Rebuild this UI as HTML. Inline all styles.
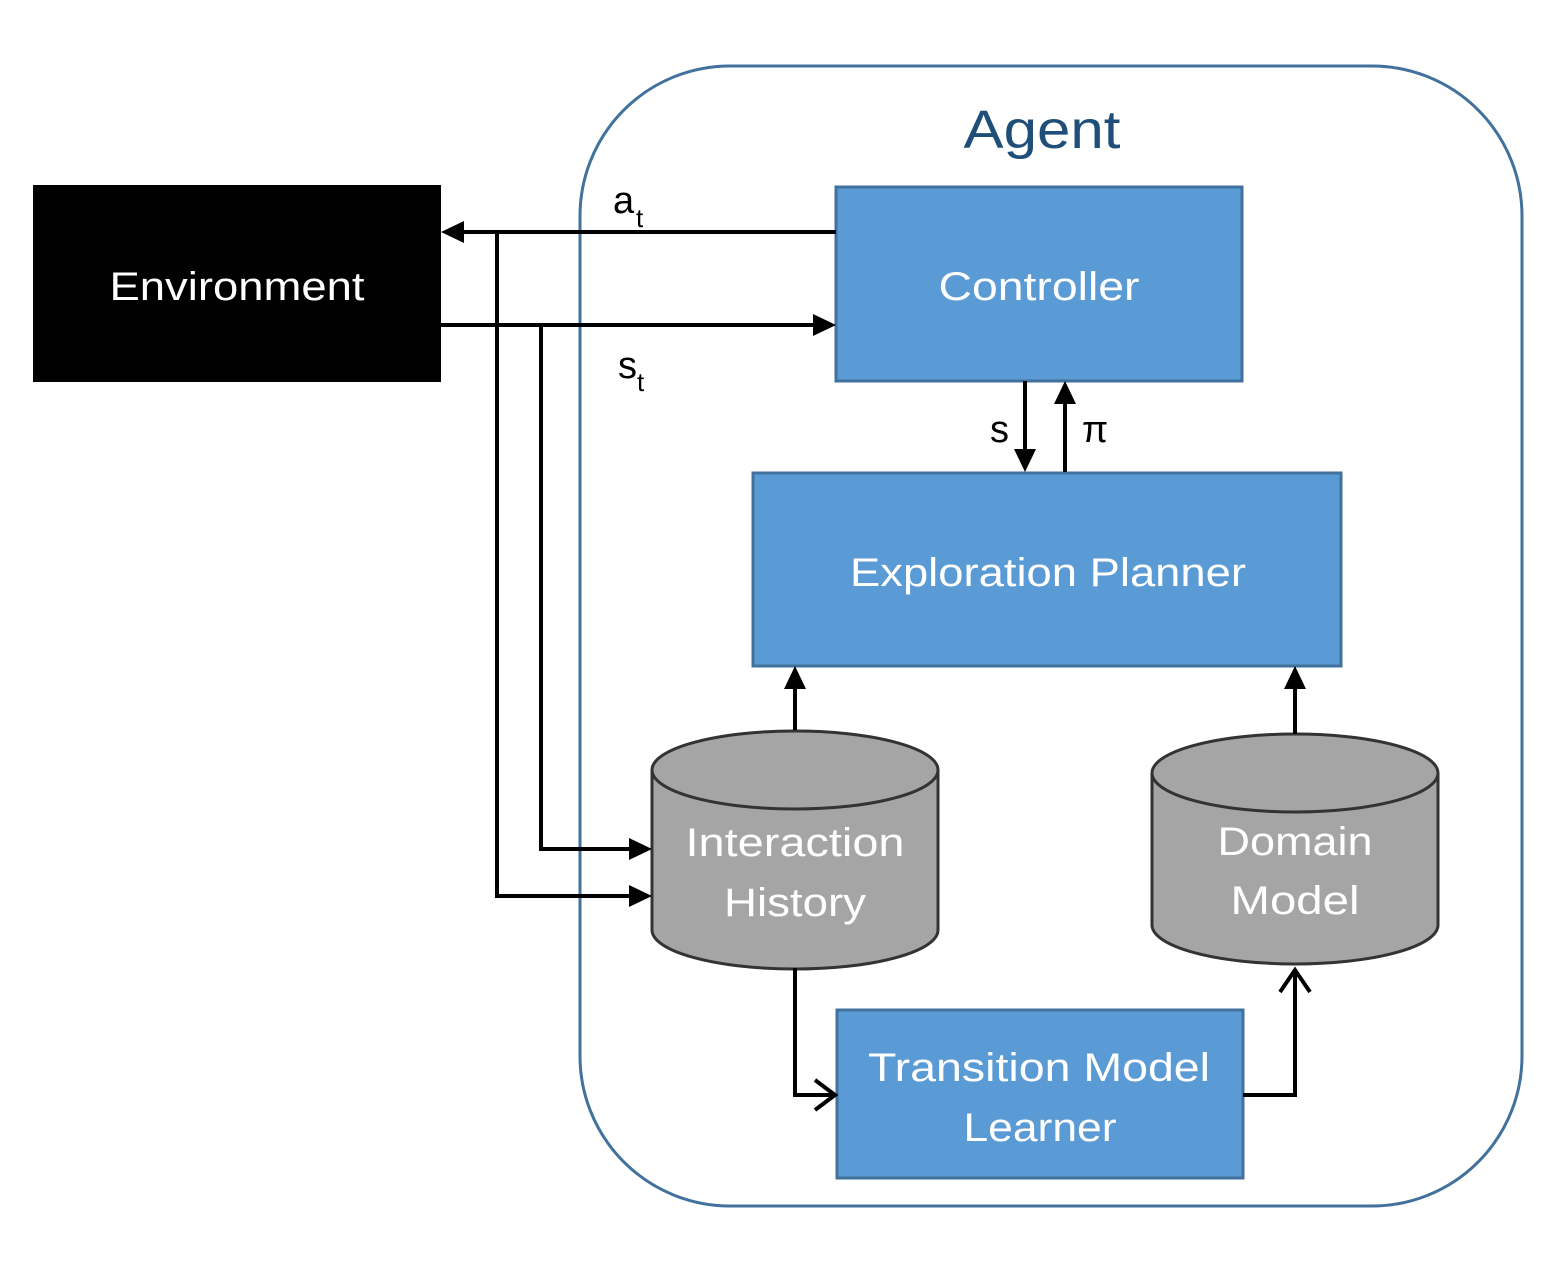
<!DOCTYPE html>
<html><head><meta charset="utf-8"><style>
html,body{margin:0;padding:0;background:#fff}
svg{display:block}
text{font-family:"Liberation Sans",sans-serif}
</style></head><body>
<svg width="1562" height="1279" viewBox="0 0 1562 1279" xmlns="http://www.w3.org/2000/svg">
<rect x="580" y="66" width="942" height="1140" rx="150" ry="150" fill="#fff" stroke="#41719c" stroke-width="3"/>
<text x="1042" y="148" font-size="54" fill="#1f4e79" text-anchor="middle" textLength="157" lengthAdjust="spacingAndGlyphs">Agent</text>

<rect x="33" y="185" width="408" height="197" fill="#000"/>
<text x="237" y="300" font-size="40" fill="#fff" text-anchor="middle" textLength="255" lengthAdjust="spacingAndGlyphs">Environment</text>

<rect x="836" y="187" width="406" height="194" fill="#5b9bd5" stroke="#41719c" stroke-width="3"/>
<text x="1039" y="300" font-size="40" fill="#fff" text-anchor="middle" textLength="201" lengthAdjust="spacingAndGlyphs">Controller</text>

<rect x="753" y="473" width="588" height="193" fill="#5b9bd5" stroke="#41719c" stroke-width="3"/>
<text x="1048" y="586" font-size="40" fill="#fff" text-anchor="middle" textLength="396" lengthAdjust="spacingAndGlyphs">Exploration Planner</text>

<rect x="837" y="1010" width="406" height="168" fill="#5b9bd5" stroke="#41719c" stroke-width="3"/>
<text x="1039" y="1081" font-size="40" fill="#fff" text-anchor="middle" textLength="342" lengthAdjust="spacingAndGlyphs">Transition Model</text>
<text x="1040" y="1141" font-size="40" fill="#fff" text-anchor="middle" textLength="153" lengthAdjust="spacingAndGlyphs">Learner</text>

<path d="M652,770 L652,930 A143,39 0 0 0 938,930 L938,770" fill="#a5a5a5" stroke="#333" stroke-width="3"/>
<ellipse cx="795" cy="770" rx="143" ry="39" fill="#a5a5a5" stroke="#333" stroke-width="3"/>
<text x="795" y="856" font-size="40" fill="#fff" text-anchor="middle" textLength="219" lengthAdjust="spacingAndGlyphs">Interaction</text>
<text x="795" y="916" font-size="40" fill="#fff" text-anchor="middle" textLength="142" lengthAdjust="spacingAndGlyphs">History</text>

<path d="M1152,773 L1152,925 A143,39 0 0 0 1438,925 L1438,773" fill="#a5a5a5" stroke="#333" stroke-width="3"/>
<ellipse cx="1295" cy="773" rx="143" ry="39" fill="#a5a5a5" stroke="#333" stroke-width="3"/>
<text x="1295" y="855" font-size="40" fill="#fff" text-anchor="middle" textLength="155" lengthAdjust="spacingAndGlyphs">Domain</text>
<text x="1295" y="914" font-size="40" fill="#fff" text-anchor="middle" textLength="129" lengthAdjust="spacingAndGlyphs">Model</text>

<g stroke="#000" stroke-width="4" fill="none">
<line x1="836" y1="232" x2="460" y2="232"/>
<line x1="441" y1="325" x2="816" y2="325"/>
<polyline points="497,232 497,896 632,896"/>
<polyline points="541,325 541,849 632,849"/>
<line x1="1025" y1="381" x2="1025" y2="452"/>
<line x1="1065" y1="472" x2="1065" y2="401"/>
<line x1="795" y1="730" x2="795" y2="686"/>
<line x1="1295" y1="734" x2="1295" y2="686"/>
<polyline points="795,968 795,1095 833,1095"/>
<polyline points="1243,1095 1295,1095 1295,970"/>
<polyline points="815,1080 835,1095 815,1110"/>
<polyline points="1280,992 1295,970 1310,992"/>
</g>
<g fill="#000">
<polygon points="441,232 464,221 464,243"/>
<polygon points="836,325 813,314 813,336"/>
<polygon points="652,896 629,885 629,907"/>
<polygon points="652,849 629,838 629,860"/>
<polygon points="1025,472 1014,449 1036,449"/>
<polygon points="1065,381 1054,404 1076,404"/>
<polygon points="795,666 784,689 806,689"/>
<polygon points="1295,666 1284,689 1306,689"/>
</g>
<text x="613" y="213" font-size="38">a</text><text x="636" y="227" font-size="26">t</text>
<text x="618" y="378" font-size="38">s</text><text x="637" y="391" font-size="26">t</text>
<text x="990" y="442" font-size="38">s</text>
<text x="1082" y="442" font-size="38">π</text>
</svg>
</body></html>
